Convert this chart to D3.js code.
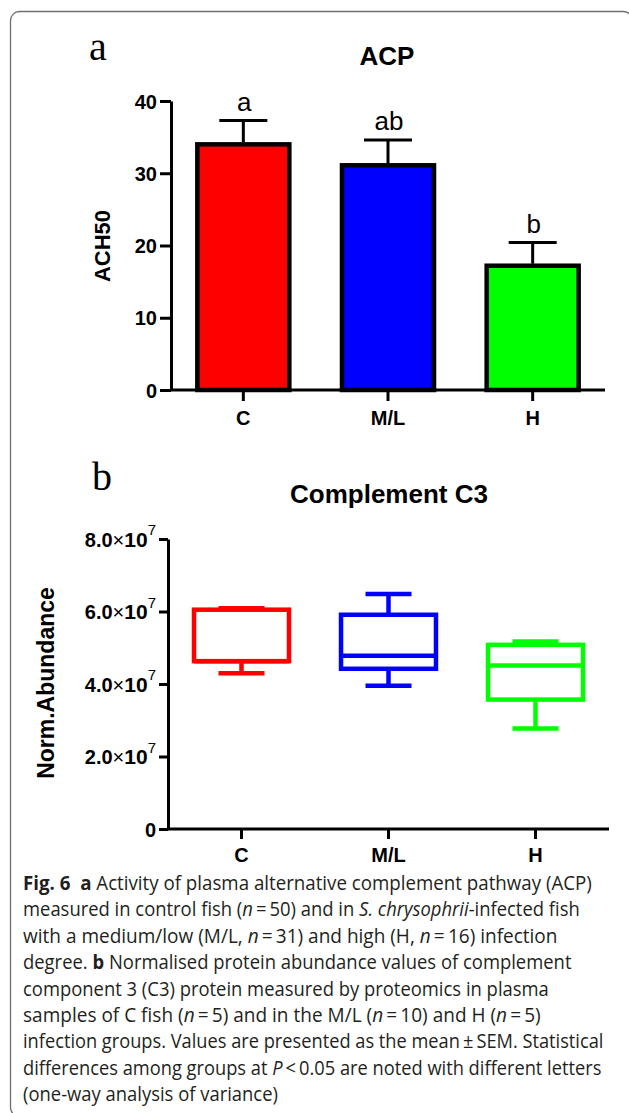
<!DOCTYPE html>
<html>
<head>
<meta charset="utf-8">
<script src="https://cdn.jsdelivr.net/npm/d3@7"></script>
<style>
  html, body { margin: 0; padding: 0; background: #fff; }
  svg { display: block; }
</style>
</head>
<body>
<div id="fig"></div>
<script>
// data
var groups = ["C", "M/L", "H"];
var colors = ["#ff0000", "#0000ff", "#00ff00"];

// panel a: ACH50 mean and SEM
var acpMean = [34.0, 31.1, 17.2];
var acpSem = [3.3, 3.5, 3.2];
var acpLetters = ["a", "ab", "b"];
var acpTicks = [0, 10, 20, 30, 40];

// panel b: C3 normalised abundance, box plot
var c3Min = [4.30e7, 3.95e7, 2.77e7];
var c3Q1 = [4.63e7, 4.42e7, 3.57e7];
var c3Median = [4.63e7, 4.78e7, 4.51e7];
var c3Q3 = [6.05e7, 5.91e7, 5.08e7];
var c3Max = [6.09e7, 6.48e7, 5.17e7];
var c3Ticks = [0, 2e7, 4e7, 6e7, 8e7];

var width = 629, height = 1113;
var svg = d3.select("#fig").append("svg")
  .attr("width", width)
  .attr("height", height);

svg.append("rect").attr("width", width).attr("height", height).attr("fill", "#fff");

// frame of the figure box (runs off the right and bottom edges)
svg.append("rect")
  .attr("x", 10.5).attr("y", 11.5)
  .attr("width", 622).attr("height", 1105)
  .attr("rx", 9)
  .attr("fill", "none")
  .attr("stroke", "#6d6e70")
  .attr("stroke-width", 1.3);

var sans = "Liberation Sans, Arial, sans-serif";

// ---------- panel a ----------
var xa = d3.scaleBand().domain(groups).range([171, 605]).paddingInner(0.364).paddingOuter(0.182);
var ya = d3.scaleLinear().domain([0, 40]).range([390, 101]);

svg.append("text").attr("x", 98).attr("y", 60)
  .attr("font-family", "Liberation Serif, Times New Roman, serif")
  .attr("font-size", 40).attr("text-anchor", "middle").text("a");

svg.append("text").attr("x", 387).attr("y", 65)
  .attr("font-family", sans).attr("font-weight", "bold")
  .attr("font-size", 26).attr("text-anchor", "middle").text("ACP");

var ga = svg.append("g");

// bars
ga.selectAll(".bar").data(groups).enter().append("rect")
  .attr("class", "bar")
  .attr("x", function(d) { return xa(d); })
  .attr("y", function(d, i) { return ya(acpMean[i]); })
  .attr("width", xa.bandwidth())
  .attr("height", function(d, i) { return ya(0) - ya(acpMean[i]); })
  .attr("fill", function(d, i) { return colors[i]; })
  .attr("stroke", "#000")
  .attr("stroke-width", 4.5);

// error bars (upper only)
var capA = 24;
ga.selectAll(".err").data(groups).enter().append("path")
  .attr("d", function(d, i) {
    var cx = xa(d) + xa.bandwidth() / 2;
    var top = ya(acpMean[i] + acpSem[i]);
    return "M" + cx + "," + (ya(acpMean[i]) - 2) + "V" + top +
      "M" + (cx - capA) + "," + top + "H" + (cx + capA);
  })
  .attr("fill", "none").attr("stroke", "#000").attr("stroke-width", 3);

// significance letters
ga.selectAll(".sig").data(groups).enter().append("text")
  .attr("x", function(d) { return xa(d) + xa.bandwidth() / 2 + 1; })
  .attr("y", function(d, i) { return ya(acpMean[i] + acpSem[i]) - 10; })
  .attr("text-anchor", "middle")
  .attr("font-family", sans).attr("font-size", 26)
  .text(function(d, i) { return acpLetters[i]; });

// axes
var yAxisA = svg.append("g").attr("transform", "translate(171,0)")
  .call(d3.axisLeft(ya).tickValues(acpTicks).tickSize(11).tickSizeOuter(0).tickPadding(3));
var xAxisA = svg.append("g").attr("transform", "translate(0,390)")
  .call(d3.axisBottom(xa).tickSize(11).tickSizeOuter(0).tickPadding(10));
xAxisA.select(".domain").attr("d", "M171,0H605");

[yAxisA, xAxisA].forEach(function(ax) {
  ax.selectAll(".domain, .tick line").attr("stroke", "#000").attr("stroke-width", 3);
  ax.selectAll("text").attr("fill", "#000").attr("font-family", sans)
    .attr("font-weight", "bold").attr("font-size", 20);
});
yAxisA.selectAll(".tick text").attr("dy", "0.35em");

svg.append("text")
  .attr("transform", "translate(110,246) rotate(-90)")
  .attr("text-anchor", "middle")
  .attr("font-family", sans).attr("font-weight", "bold").attr("font-size", 22)
  .text("ACH50");

// ---------- panel b ----------
var xb = d3.scaleBand().domain(groups).range([168, 609]).paddingInner(0.354).paddingOuter(0.177);
var yb = d3.scaleLinear().domain([0, 8e7]).range([829, 539]);

svg.append("text").attr("x", 102).attr("y", 490)
  .attr("font-family", "Liberation Serif, Times New Roman, serif")
  .attr("font-size", 40).attr("text-anchor", "middle").text("b");

svg.append("text").attr("x", 389).attr("y", 503)
  .attr("font-family", sans).attr("font-weight", "bold")
  .attr("font-size", 26).attr("text-anchor", "middle").text("Complement C3");

var gb = svg.append("g");
var capB = 23;
var boxes = gb.selectAll(".box").data(groups).enter().append("g").attr("class", "box");

// whiskers
boxes.append("path")
  .attr("d", function(d, i) {
    var cx = xb(d) + xb.bandwidth() / 2;
    return "M" + cx + "," + yb(c3Q3[i]) + "V" + yb(c3Max[i]) +
      "M" + (cx - capB) + "," + yb(c3Max[i]) + "H" + (cx + capB) +
      "M" + cx + "," + yb(c3Q1[i]) + "V" + yb(c3Min[i]) +
      "M" + (cx - capB) + "," + yb(c3Min[i]) + "H" + (cx + capB);
  })
  .attr("fill", "none")
  .attr("stroke", function(d, i) { return colors[i]; })
  .attr("stroke-width", 4.5);

// box
boxes.append("rect")
  .attr("x", function(d) { return xb(d); })
  .attr("y", function(d, i) { return yb(c3Q3[i]); })
  .attr("width", xb.bandwidth())
  .attr("height", function(d, i) { return yb(c3Q1[i]) - yb(c3Q3[i]); })
  .attr("fill", "#fff")
  .attr("stroke", function(d, i) { return colors[i]; })
  .attr("stroke-width", 4.5);

// median
boxes.append("line")
  .attr("x1", function(d) { return xb(d); })
  .attr("x2", function(d) { return xb(d) + xb.bandwidth(); })
  .attr("y1", function(d, i) { return yb(c3Median[i]); })
  .attr("y2", function(d, i) { return yb(c3Median[i]); })
  .attr("stroke", function(d, i) { return colors[i]; })
  .attr("stroke-width", 4.5);

var yAxisB = svg.append("g").attr("transform", "translate(168,0)")
  .call(d3.axisLeft(yb).tickValues(c3Ticks).tickSize(9).tickSizeOuter(0).tickPadding(3));
var xAxisB = svg.append("g").attr("transform", "translate(0,829)")
  .call(d3.axisBottom(xb).tickSize(10).tickSizeOuter(0).tickPadding(9));
xAxisB.select(".domain").attr("d", "M168,0H609");

[yAxisB, xAxisB].forEach(function(ax) {
  ax.selectAll(".domain, .tick line").attr("stroke", "#000").attr("stroke-width", 3);
  ax.selectAll("text").attr("fill", "#000").attr("font-family", sans)
    .attr("font-weight", "bold").attr("font-size", 20);
});

// scientific tick labels: 8.0×10^7
yAxisB.selectAll(".tick text").each(function(d) {
  var t = d3.select(this).text("").attr("dy", "0.35em");
  if (d === 0) { t.text("0"); return; }
  var exp = Math.floor(Math.log10(d));
  var mant = d / Math.pow(10, exp);
  t.append("tspan").text(mant.toFixed(1));
  t.append("tspan").attr("font-weight", "normal").attr("font-size", 20).text("\u00d7");
  t.append("tspan").attr("font-size", 21).text("10");
  t.append("tspan").attr("font-weight", "normal").attr("font-size", 15)
    .attr("dy", "-0.75em").text(exp);
});

svg.append("text")
  .attr("transform", "translate(54,683) rotate(-90)")
  .attr("text-anchor", "middle")
  .attr("font-family", sans).attr("font-weight", "bold").attr("font-size", 23)
  .text("Norm.Abundance");

// ---------- caption ----------
var capLines = [
  [["b", "Fig. 6"], ["", "  "], ["b", "a"], ["", " Activity of plasma alternative complement pathway (ACP)"]],
  [["", "measured in control fish ("], ["i", "n"], ["", "\u2009=\u200950) and in "], ["i", "S. chrysophrii"], ["", "-infected fish"]],
  [["", "with a medium/low (M/L, "], ["i", "n"], ["", "\u2009=\u200931) and high (H, "], ["i", "n"], ["", "\u2009=\u200916) infection"]],
  [["", "degree. "], ["b", "b"], ["", " Normalised protein abundance values of complement"]],
  [["", "component 3 (C3) protein measured by proteomics in plasma"]],
  [["", "samples of C fish ("], ["i", "n"], ["", "\u2009=\u20095) and in the M/L ("], ["i", "n"], ["", "\u2009=\u200910) and H ("], ["i", "n"], ["", "\u2009=\u20095)"]],
  [["", "infection groups. Values are presented as the mean\u2009\u00b1\u2009SEM. Statistical"]],
  [["", "differences among groups at "], ["i", "P"], ["", "\u2009<\u20090.05 are noted with different letters"]],
  [["", "(one-way analysis of variance)"]]
];
var capEnds = [592, 580, 558, 572, 549, 541, 604, 602, 278];
var capX = 23, capY0 = 890, capStep = 26.4;

var cap = svg.append("g")
  .attr("font-family", "Open Sans, Noto Sans, sans-serif")
  .attr("font-size", 20)
  .attr("fill", "#231f20");

capLines.forEach(function(line, li) {
  var t = cap.append("text")
    .attr("x", 0).attr("y", 0)
    .style("white-space", "pre");
  line.forEach(function(seg) {
    var s = t.append("tspan").text(seg[1]);
    if (seg[0] === "b") s.attr("font-weight", "bold");
    if (seg[0] === "i") s.attr("font-style", "italic");
  });
  var w = t.node().getComputedTextLength();
  var k = (capEnds[li] - capX) / w;
  t.attr("transform", "translate(" + capX + "," + (capY0 + li * capStep) + ") scale(" + k + ",1)");
});
</script>
</body>
</html>
